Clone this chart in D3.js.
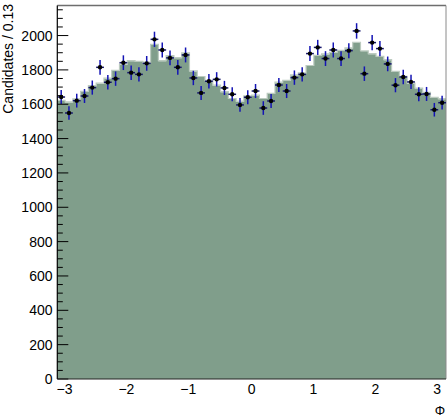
<!DOCTYPE html>
<html>
<head>
<meta charset="utf-8">
<script src="https://cdn.jsdelivr.net/npm/d3@7"></script>
<style>
  html, body { margin: 0; padding: 0; background: #ffffff; }
  svg { display: block; }
  text { font-family: "Liberation Sans", Arial, sans-serif; fill: #000; }
</style>
</head>
<body>
<svg id="chart" width="447" height="417"></svg>
<script>
// Φ distribution: 50 bins over [-π, π]
const nBins = 50;
const phiMin = -Math.PI;
const phiMax = Math.PI;

// Observed candidates per bin (points with Poisson error bars)
const dataCounts = [
  1642, 1549, 1621, 1648, 1697, 1815, 1728, 1749, 1842, 1784,
  1774, 1838, 1978, 1916, 1870, 1815, 1887, 1753, 1666, 1734,
  1745, 1695, 1658, 1596, 1641, 1677, 1578, 1619, 1712, 1677,
  1755, 1774, 1895, 1931, 1866, 1916, 1866, 1912, 2027, 1778,
  1959, 1924, 1835, 1711, 1759, 1730, 1658, 1660, 1568, 1609
];

// Expected candidates per bin (filled histogram)
const modelCounts = [
  1619, 1610, 1628, 1671, 1705, 1720, 1749, 1794, 1830, 1850,
  1846, 1842, 1945, 1850, 1880, 1868, 1896, 1791, 1758, 1736,
  1708, 1670, 1630, 1615, 1645, 1650, 1630, 1660, 1725, 1735,
  1767, 1779, 1822, 1881, 1890, 1898, 1910, 1925, 1957, 1908,
  1891, 1875, 1856, 1788, 1759, 1720, 1691, 1666, 1637, 1629
];

const xTickValues = [-3, -2, -1, 0, 1, 2, 3];
const yTickValues = [0, 200, 400, 600, 800, 1000, 1200, 1400, 1600, 1800, 2000];
const yMax = 2175;
const xTitle = "Φ";
const yTitle = "Candidates / 0.13";

const svg = d3.select("#chart");
const plotL = 57.3, plotR = 446, plotT = 5.5, plotB = 379;

const x = d3.scaleLinear().domain([phiMin, phiMax]).range([plotL, plotR]);
const y = d3.scaleLinear().domain([0, yMax]).range([plotB, plotT]);

const binW = (phiMax - phiMin) / nBins;
const edges = d3.range(nBins + 1).map(i => phiMin + i * binW);

// Filled histogram as a step area
const stepPts = modelCounts.map((v, i) => ({ x: edges[i], y: v }));
stepPts.push({ x: edges[nBins], y: modelCounts[nBins - 1] });

const area = d3.area()
  .curve(d3.curveStepAfter)
  .x(d => x(d.x))
  .y0(y(0))
  .y1(d => y(d.y));

svg.append("path")
  .attr("d", area(stepPts))
  .attr("fill", "rgb(128,158,139)");

const line = d3.line()
  .curve(d3.curveStepAfter)
  .x(d => x(d.x))
  .y(d => y(d.y) - 0.6);

svg.append("path")
  .attr("d", line(stepPts))
  .attr("fill", "none")
  .attr("stroke", "#bccbc0")
  .attr("stroke-width", 1.2);

// Frame
svg.append("line").attr("x1", plotL).attr("x2", plotR).attr("y1", plotT).attr("y2", plotT)
  .attr("stroke", "#6e6e6e").attr("stroke-width", 1.5);
svg.append("line").attr("x1", plotR).attr("x2", plotR).attr("y1", plotT).attr("y2", plotB)
  .attr("stroke", "#8a8a8a").attr("stroke-width", 1);

// Data points with error bars
const pts = svg.append("g");
dataCounts.forEach((v, i) => {
  const cx = x(edges[i] + binW / 2);
  const err = Math.sqrt(v);
  pts.append("line")
    .attr("x1", cx).attr("x2", cx)
    .attr("y1", y(v - err)).attr("y2", y(v + err))
    .attr("stroke", "#1414b4").attr("stroke-width", 1.5);
  pts.append("line")
    .attr("x1", x(edges[i])).attr("x2", x(edges[i + 1]))
    .attr("y1", y(v)).attr("y2", y(v))
    .attr("stroke", "#14146e").attr("stroke-width", 1.5);
  pts.append("circle")
    .attr("cx", cx).attr("cy", y(v)).attr("r", 2.2)
    .attr("fill", "#000");
});

// Y axis: major ticks every 200, minor every 50, drawn inward
const yAxisG = svg.append("g");
const minorY = d3.range(0, yMax, 50);
minorY.forEach(v => {
  const major = v % 200 === 0;
  yAxisG.append("line")
    .attr("x1", plotL).attr("x2", plotL + (major ? 11 : 5.5))
    .attr("y1", y(v)).attr("y2", y(v))
    .attr("stroke", "#000").attr("stroke-width", 1);
});
yTickValues.forEach(v => {
  yAxisG.append("text")
    .attr("x", 52.5).attr("y", y(v))
    .attr("dy", "0.36em")
    .attr("text-anchor", "end")
    .attr("font-size", 14)
    .text(v);
});
svg.append("line").attr("x1", plotL).attr("x2", plotL).attr("y1", plotT).attr("y2", plotB)
  .attr("stroke", "#000").attr("stroke-width", 1.2);

// X axis
svg.append("line").attr("x1", plotL).attr("x2", plotR).attr("y1", plotB).attr("y2", plotB)
  .attr("stroke", "#222").attr("stroke-width", 1.2);
xTickValues.forEach(v => {
  svg.append("text")
    .attr("x", x(v) - (v < 0 ? 1.5 : 0)).attr("y", 394)
    .attr("text-anchor", "middle")
    .attr("font-size", 14)
    .text(v < 0 ? "\u2212" + Math.abs(v) : String(v));
});

// Axis titles
svg.append("text")
  .attr("x", 445).attr("y", 415)
  .attr("text-anchor", "end")
  .attr("font-size", 13)
  .text(xTitle);

svg.append("text")
  .attr("transform", "translate(13,4) rotate(-90)")
  .attr("text-anchor", "end")
  .attr("font-size", 14)
  .text(yTitle);
</script>
</body>
</html>
